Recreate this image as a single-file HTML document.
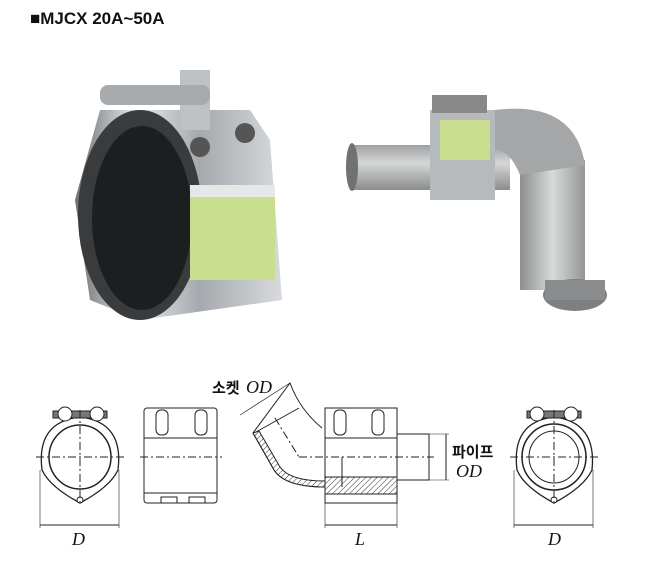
<!DOCTYPE html>
<html><head><meta charset="utf-8"><style>
body{margin:0;width:672px;height:586px;background:#fff;overflow:hidden;font-family:"Liberation Sans","Noto Sans CJK KR",sans-serif}
.t{position:absolute;left:30px;top:9px;font-size:17px;font-weight:bold;color:#111}
</style></head><body>
<div class="t">■MJCX 20A~50A</div>
<svg width="672" height="586" style="position:absolute;left:0;top:0">
<defs>
<linearGradient id="st" x1="0" x2="1"><stop offset="0" stop-color="#6d7074"/><stop offset=".3" stop-color="#e8eaec"/><stop offset=".6" stop-color="#a5a9ad"/><stop offset="1" stop-color="#d8dadd"/></linearGradient>
<linearGradient id="gv" x1="0" y1="0" x2="0" y2="1"><stop offset="0" stop-color="#9fa1a2"/><stop offset=".4" stop-color="#d6d7d7"/><stop offset="1" stop-color="#8a8c8d"/></linearGradient>
<linearGradient id="gh" x1="0" x2="1"><stop offset="0" stop-color="#8c8e8f"/><stop offset=".5" stop-color="#d9dada"/><stop offset="1" stop-color="#949697"/></linearGradient>
<pattern id="h" width="4" height="4" patternUnits="userSpaceOnUse" patternTransform="rotate(45)"><line x1="0" y1="0" x2="0" y2="4" stroke="#333" stroke-width="1"/></pattern>
</defs>
<!-- left photo coupling -->
<path d="M100 110 L250 110 L270 140 L282 300 L140 320 L90 300 L75 200 Z" fill="url(#st)"/>
<ellipse cx="140" cy="215" rx="62" ry="105" fill="#3a3b3d"/>
<ellipse cx="142" cy="218" rx="50" ry="92" fill="#1d1e20"/>
<rect x="180" y="70" width="30" height="60" fill="#bfc2c5"/>
<rect x="100" y="85" width="110" height="20" rx="8" fill="#a8abae"/>
<rect x="190" y="185" width="85" height="95" fill="#c9de8e"/>
<rect x="190" y="185" width="85" height="12" fill="#e6e8e8"/>
<circle cx="200" cy="147" r="10" fill="#555"/><circle cx="245" cy="133" r="10" fill="#555"/>
<!-- right photo elbow -->
<rect x="350" y="145" width="160" height="45" fill="url(#gv)"/>
<ellipse cx="352" cy="167" rx="6" ry="24" fill="#6f7173"/>
<rect x="430" y="110" width="65" height="90" fill="#b7babd"/>
<rect x="440" y="120" width="50" height="40" fill="#c9de8e"/>
<rect x="432" y="95" width="55" height="18" fill="#888"/>
<rect x="520" y="160" width="65" height="130" fill="url(#gh)"/>
<path d="M495 110 Q575 100 585 165 L520 175 Q510 150 495 150Z" fill="#a4a6a7"/>
<ellipse cx="575" cy="295" rx="32" ry="16" fill="#7d7f80"/>
<rect x="545" y="280" width="60" height="20" fill="#8a8c8d"/>
<!-- drawings -->
<g fill="none" stroke="#222" stroke-width="1">
<!-- left front view -->
<path d="M42 470 Q36 422 80 417 Q124 422 118 470 Q110 487 80 503 Q50 487 42 470Z" stroke-width="1.3"/>
<ellipse cx="80" cy="457" rx="31" ry="32" stroke-width="1.5"/>
<rect x="53" y="411" width="54" height="7" fill="#777"/>
<circle cx="65" cy="414" r="7" fill="#fff"/><circle cx="97" cy="414" r="7" fill="#fff"/>
<circle cx="80" cy="500" r="3" fill="#fff"/>
<line x1="36" y1="457" x2="124" y2="457" stroke-dasharray="8,3,2,3"/>
<line x1="80" y1="410" x2="80" y2="505" stroke-dasharray="8,3,2,3"/>
<line x1="40" y1="470" x2="40" y2="528" stroke-width=".6"/><line x1="119" y1="470" x2="119" y2="528" stroke-width=".6"/>
<line x1="40" y1="525" x2="119" y2="525"/>
<!-- side view -->
<rect x="144" y="408" width="73" height="95" rx="3"/>
<line x1="144" y1="438" x2="217" y2="438"/><line x1="144" y1="493" x2="217" y2="493"/>
<rect x="156" y="410" width="12" height="25" rx="5"/><rect x="195" y="410" width="12" height="25" rx="5"/>
<rect x="161" y="497" width="16" height="6"/><rect x="189" y="497" width="16" height="6"/>
<line x1="140" y1="457" x2="222" y2="457" stroke-dasharray="8,3,2,3"/>
<!-- elbow -->
<path d="M253 433 L290 383 Q300 410 322 428"/>
<path d="M253 433 L274 470 Q285 487 325 487"/>
<path d="M253 433 L274 470 Q285 487 325 487 L325 481 Q290 481 280 467 L259 431Z" fill="url(#h)"/>
<rect x="325" y="477" width="72" height="17" fill="url(#h)"/>
<line x1="256" y1="432" x2="299" y2="408"/>
<rect x="325" y="408" width="72" height="95"/>
<line x1="325" y1="438" x2="397" y2="438"/>
<rect x="334" y="410" width="12" height="25" rx="5"/><rect x="372" y="410" width="12" height="25" rx="5"/>
<rect x="397" y="434" width="32" height="46"/>
<line x1="299" y1="457" x2="434" y2="457" stroke-dasharray="8,3,2,3"/>
<line x1="275" y1="418" x2="299" y2="457" stroke-dasharray="8,3,2,3"/>
<line x1="342" y1="457" x2="342" y2="487"/>
<line x1="240" y1="415" x2="290" y2="383" stroke-width=".7"/>
<line x1="429" y1="434" x2="449" y2="434" stroke-width=".6"/><line x1="397" y1="480" x2="449" y2="480" stroke-width=".6"/>
<line x1="446" y1="434" x2="446" y2="480"/>
<line x1="325" y1="503" x2="325" y2="528" stroke-width=".6"/><line x1="397" y1="503" x2="397" y2="528" stroke-width=".6"/>
<line x1="325" y1="525" x2="397" y2="525"/>
<!-- right front view -->
<path d="M517 470 Q511 422 554 417 Q597 422 592 470 Q584 487 554 503 Q524 487 517 470Z" stroke-width="1.3"/>
<ellipse cx="554" cy="457" rx="32" ry="33" stroke-width="1.5"/>
<ellipse cx="554" cy="457" rx="25" ry="26"/>
<rect x="527" y="411" width="54" height="7" fill="#777"/>
<circle cx="537" cy="414" r="7" fill="#fff"/><circle cx="571" cy="414" r="7" fill="#fff"/>
<circle cx="554" cy="500" r="3" fill="#fff"/>
<line x1="510" y1="457" x2="598" y2="457" stroke-dasharray="8,3,2,3"/>
<line x1="554" y1="410" x2="554" y2="505" stroke-dasharray="8,3,2,3"/>
<line x1="514" y1="470" x2="514" y2="528" stroke-width=".6"/><line x1="593" y1="470" x2="593" y2="528" stroke-width=".6"/>
<line x1="514" y1="525" x2="593" y2="525"/>
</g>
<g font-family="Liberation Serif,serif" font-style="italic" font-size="18" fill="#111">
<text x="72" y="545">D</text>
<text x="355" y="545">L</text>
<text x="548" y="545">D</text>
<text x="246" y="393">OD</text>
<text x="456" y="477">OD</text>
</g>
<g font-family="Liberation Sans,'Noto Sans CJK KR',sans-serif" font-weight="bold" font-size="15" fill="#111">
<text x="212" y="393">소켓</text>
<text x="452" y="457">파이프</text>
</g>
</svg>
</body></html>
